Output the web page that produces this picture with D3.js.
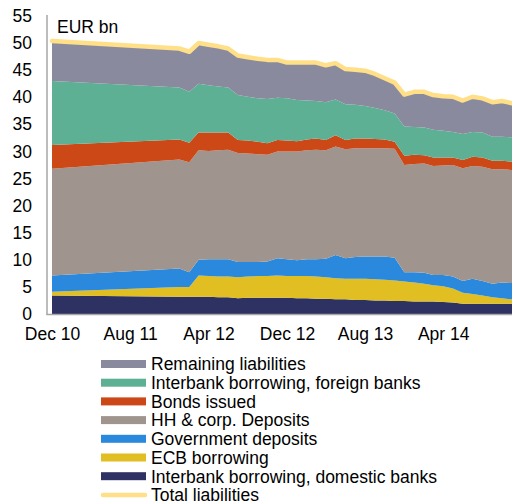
<!DOCTYPE html>
<html>
<head>
<meta charset="utf-8">
<script src="https://cdn.jsdelivr.net/npm/d3@7"></script>
<style>
  html, body { margin: 0; padding: 0; background: #fff; }
  svg { display: block; font-family: "Liberation Sans", Arial, sans-serif; }
</style>
</head>
<body>
<svg id="chart" width="512" height="504"></svg>
<script>
// Monthly observations (EUR bn); the first point is Dec 2010, then Jan 2012 onwards
const months = [
  "2010-12",
  "2012-01","2012-02","2012-03","2012-04","2012-05","2012-06","2012-07","2012-08","2012-09","2012-10","2012-11","2012-12",
  "2013-01","2013-02","2013-03","2013-04","2013-05","2013-06","2013-07","2013-08","2013-09","2013-10","2013-11","2013-12",
  "2014-01","2014-02","2014-03","2014-04","2014-05","2014-06","2014-07","2014-08","2014-09","2014-10","2014-11"
];
const domestic = [3.4, 3.2,3.2,3.2,3.2,3.1,3.1,2.9,3.0,3.0,3.0,3.0,3.0, 2.9,2.9,2.8,2.8,2.7,2.7,2.6,2.6,2.5,2.5,2.4,2.4, 2.3,2.3,2.3,2.2,2.1,1.9,1.9,1.9,1.9,1.9,1.9];
const ecb = [0.7, 1.8,1.8,3.9,3.8,3.8,3.8,3.9,3.9,4.0,4.0,4.1,4.0, 4.1,4.1,4.1,4.0,3.9,3.8,3.9,3.9,3.9,3.8,3.8,3.6, 3.5,3.3,3.0,2.9,2.6,2.0,1.8,1.5,1.2,1.0,0.8];
const government = [3.0, 3.4,2.7,2.9,3.1,3.2,3.2,2.8,2.7,2.6,2.7,3.2,3.1, 2.9,3.1,3.2,3.4,4.3,3.8,4.0,4.1,4.2,4.3,4.2,1.7, 1.9,2.0,1.9,2.1,2.2,2.2,2.8,2.7,2.5,2.9,3.0];
const households = [19.7, 20.1,20.3,20.2,20.0,20.1,20.2,20.1,20.0,19.9,19.7,19.7,19.9, 20.1,20.1,20.2,20.0,20.0,20.1,20.1,20.0,20.0,20.0,20.1,19.8, 20.0,20.2,20.1,20.2,20.6,20.8,20.8,21.1,21.1,20.9,20.9];
const bonds = [4.4, 3.7,3.6,3.3,3.4,3.3,3.2,2.4,2.4,2.3,2.1,2.1,2.0, 1.9,2.0,2.1,1.9,2.1,1.7,1.8,1.8,1.7,1.6,1.3,1.7, 1.7,1.5,1.6,1.5,1.4,1.5,1.7,1.7,1.6,1.6,1.5];
const foreign = [11.8, 9.6,9.4,9.0,8.7,8.5,8.3,8.3,8.1,8.0,8.2,7.8,7.8, 7.6,7.2,6.9,7.0,6.6,6.6,6.2,6.0,5.7,5.4,5.2,5.4, 5.1,5.1,5.1,4.9,4.7,4.8,4.6,4.6,4.4,4.4,4.5];
const remaining = [7.4, 7.2,7.4,7.5,7.5,7.4,7.2,7.3,7.3,7.3,7.2,7.0,6.6, 6.9,7.0,7.1,6.8,6.7,6.5,6.5,6.5,6.3,5.9,5.7,5.9, 6.5,6.6,6.4,6.4,6.5,6.2,6.5,6.3,6.4,6.6,6.3];

// Stack order, bottom to top
const seriesNames = [
  "Interbank borrowing, domestic banks",
  "ECB borrowing",
  "Government deposits",
  "HH & corp. Deposits",
  "Bonds issued",
  "Interbank borrowing, foreign banks",
  "Remaining liabilities"
];
const seriesValues = [domestic, ecb, government, households, bonds, foreign, remaining];
const seriesColors = ["#2d3262", "#e1be21", "#2a89dc", "#a0958e", "#cc4816", "#5eb094", "#8a8a9e"];
const totalName = "Total liabilities";
const totalColor = "#ffdf88";

const yTicks = [0, 5, 10, 15, 20, 25, 30, 35, 40, 45, 50, 55];
const xTickMonths = ["2010-12", "2011-08", "2012-04", "2012-12", "2013-08", "2014-04"];
const unitLabel = "EUR bn";

const parseMonth = d3.timeParse("%Y-%m");
const rows = months.map((m, i) => {
  const r = { date: parseMonth(m) };
  seriesNames.forEach((name, k) => { r[name] = seriesValues[k][i]; });
  r.total = d3.sum(seriesValues, s => s[i]);
  return r;
});

const svg = d3.select("#chart");
const font = 17.5;

const x = d3.scaleTime()
  .domain([parseMonth("2010-12"), parseMonth("2014-11")])
  .range([52, 512]);
const y = d3.scaleLinear().domain([0, 55]).range([314, 16]);

const stack = d3.stack().keys(seriesNames);
const layers = stack(rows);

const area = d3.area()
  .x(d => x(d.data.date))
  .y0(d => y(d[0]))
  .y1(d => y(d[1]));

svg.append("g").selectAll("path")
  .data(layers)
  .join("path")
  .attr("d", area)
  .attr("fill", (d, i) => seriesColors[i]);

// Total line on top of the stack
svg.append("path")
  .datum(rows)
  .attr("d", d3.line().x(d => x(d.date)).y(d => y(d.total)))
  .attr("fill", "none")
  .attr("stroke", totalColor)
  .attr("stroke-width", 4.5)
  .attr("stroke-linejoin", "round")
  .attr("stroke-linecap", "round");

// Axes lines
svg.append("line")
  .attr("x1", 47).attr("x2", 47).attr("y1", 15).attr("y2", 314.5)
  .attr("stroke", "#a6a6a6").attr("stroke-width", 1.5);
svg.append("line")
  .attr("x1", 46.25).attr("x2", 512).attr("y1", 314.5).attr("y2", 314.5)
  .attr("stroke", "#a6a6a6").attr("stroke-width", 1.5);

// Y axis labels
const yAxis = d3.axisLeft(y).tickValues(yTicks).tickSize(0).tickPadding(0);
const gy = svg.append("g").attr("transform", "translate(32,0)").call(yAxis);
gy.select(".domain").remove();
gy.selectAll("text")
  .attr("font-size", font)
  .attr("font-family", "Liberation Sans, Arial, sans-serif")
  .attr("fill", "#000");

// X axis labels
const xAxis = d3.axisBottom(x)
  .tickValues(xTickMonths.map(parseMonth))
  .tickFormat(d3.timeFormat("%b %y"))
  .tickSize(0).tickPadding(0);
const gx = svg.append("g").attr("transform", "translate(0,328)").call(xAxis);
gx.select(".domain").remove();
gx.selectAll("text")
  .attr("font-size", font)
  .attr("font-family", "Liberation Sans, Arial, sans-serif")
  .attr("fill", "#000");

// Unit label
svg.append("text")
  .attr("x", 57).attr("y", 33)
  .attr("font-size", font)
  .attr("fill", "#000")
  .text(unitLabel);

// Legend
const legendItems = seriesNames.map((n, i) => ({ name: n, color: seriesColors[i], type: "area" }))
  .reverse()
  .concat([{ name: totalName, color: totalColor, type: "line" }]);
const lg = svg.append("g");
legendItems.forEach((it, i) => {
  const cy = 364 + i * 18.7;
  if (it.type === "area") {
    lg.append("rect")
      .attr("x", 101).attr("y", cy - 4).attr("width", 45).attr("height", 8)
      .attr("fill", it.color);
  } else {
    lg.append("line")
      .attr("x1", 103).attr("x2", 145).attr("y1", cy).attr("y2", cy)
      .attr("stroke", it.color).attr("stroke-width", 4.5)
      .attr("stroke-linecap", "round");
  }
  lg.append("text")
    .attr("x", 151).attr("y", cy)
    .attr("dy", "0.36em")
    .attr("font-size", font)
    .attr("fill", "#000")
    .text(it.name);
});
</script>
</body>
</html>
